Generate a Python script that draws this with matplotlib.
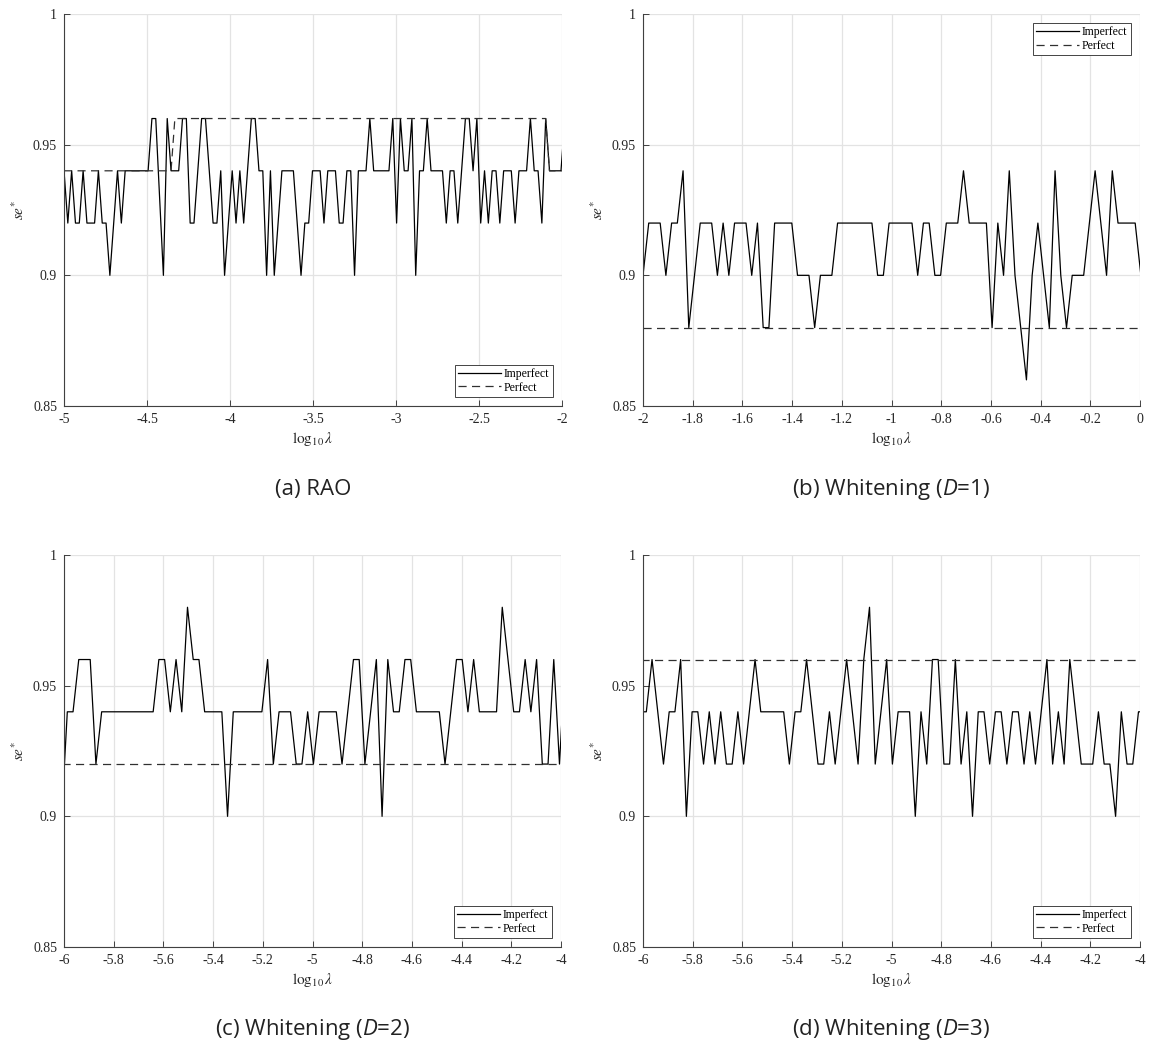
import numpy as np
import matplotlib
matplotlib.use("Agg")
import matplotlib.pyplot as plt

plt.rcParams['font.family'] = ['Liberation Serif', 'DejaVu Serif']
plt.rcParams['axes.unicode_minus'] = False
plt.rcParams['mathtext.fontset'] = 'custom'
plt.rcParams['mathtext.rm'] = 'Open Sans'
plt.rcParams['mathtext.it'] = 'Open Sans:italic'

# spacing of the log10(lambda) grid
STEP = 0.02303

# ---- (a) RAO ----
a_x0 = -5.0
a_imperfect = [0.94, 0.92, 0.94, 0.92, 0.92, 0.94, 0.92, 0.92, 0.92, 0.94,
               0.92, 0.92, 0.90, 0.92, 0.94, 0.92, 0.94, 0.94, 0.94, 0.94,
               0.94, 0.94, 0.94, 0.96, 0.96, 0.93, 0.90, 0.96, 0.94, 0.94,
               0.94, 0.96, 0.96, 0.92, 0.92, 0.94, 0.96, 0.96, 0.94, 0.92,
               0.92, 0.94, 0.90, 0.92, 0.94, 0.92, 0.94, 0.92, 0.94, 0.96,
               0.96, 0.94, 0.94, 0.90, 0.94, 0.90, 0.92, 0.94, 0.94, 0.94,
               0.94, 0.92, 0.90, 0.92, 0.92, 0.94, 0.94, 0.94, 0.92, 0.94,
               0.94, 0.94, 0.92, 0.92, 0.94, 0.94, 0.90, 0.94, 0.94, 0.94,
               0.96, 0.94, 0.94, 0.94, 0.94, 0.94, 0.96, 0.92, 0.96, 0.94,
               0.94, 0.96, 0.90, 0.94, 0.94, 0.96, 0.94, 0.94, 0.94, 0.94,
               0.92, 0.94, 0.94, 0.92, 0.94, 0.96, 0.96, 0.94, 0.96, 0.92,
               0.94, 0.92, 0.94, 0.94, 0.92, 0.94, 0.94, 0.94, 0.92, 0.94,
               0.94, 0.94, 0.96, 0.94, 0.94, 0.92, 0.96, 0.94, 0.94, 0.94,
               0.94, 0.96]
a_perfect_levels = [0.94, 0.96, 0.94]
a_perfect_counts = [29, 98, 5]
a_xticks = [-5, -4.5, -4, -3.5, -3, -2.5, -2]
a_xlim = (-5, -2)

# ---- (b) Whitening D=1 ----
b_x0 = -2.0
b_imperfect = [0.90, 0.92, 0.92, 0.92, 0.90, 0.92, 0.92, 0.94, 0.88, 0.90,
               0.92, 0.92, 0.92, 0.90, 0.92, 0.90, 0.92, 0.92, 0.92, 0.90,
               0.92, 0.88, 0.88, 0.92, 0.92, 0.92, 0.92, 0.90, 0.90, 0.90,
               0.88, 0.90, 0.90, 0.90, 0.92, 0.92, 0.92, 0.92, 0.92, 0.92,
               0.92, 0.90, 0.90, 0.92, 0.92, 0.92, 0.92, 0.92, 0.90, 0.92,
               0.92, 0.90, 0.90, 0.92, 0.92, 0.92, 0.94, 0.92, 0.92, 0.92,
               0.92, 0.88, 0.92, 0.90, 0.94, 0.90, 0.88, 0.86, 0.90, 0.92,
               0.90, 0.88, 0.94, 0.90, 0.88, 0.90, 0.90, 0.90, 0.92, 0.94,
               0.92, 0.90, 0.94, 0.92, 0.92, 0.92, 0.92, 0.90]
b_perfect_levels = [0.88]
b_perfect_counts = [88]
b_xticks = [-2, -1.8, -1.6, -1.4, -1.2, -1, -0.8, -0.6, -0.4, -0.2, 0]
b_xlim = (-2, 0)

# ---- (c) Whitening D=2 ----
c_x0 = -6.0097
c_imperfect = [0.90, 0.94, 0.94, 0.96, 0.96, 0.96, 0.92, 0.94, 0.94, 0.94,
               0.94, 0.94, 0.94, 0.94, 0.94, 0.94, 0.94, 0.96, 0.96, 0.94,
               0.96, 0.94, 0.98, 0.96, 0.96, 0.94, 0.94, 0.94, 0.94, 0.90,
               0.94, 0.94, 0.94, 0.94, 0.94, 0.94, 0.96, 0.92, 0.94, 0.94,
               0.94, 0.92, 0.92, 0.94, 0.92, 0.94, 0.94, 0.94, 0.94, 0.92,
               0.94, 0.96, 0.96, 0.92, 0.94, 0.96, 0.90, 0.96, 0.94, 0.94,
               0.96, 0.96, 0.94, 0.94, 0.94, 0.94, 0.94, 0.92, 0.94, 0.96,
               0.96, 0.94, 0.96, 0.94, 0.94, 0.94, 0.94, 0.98, 0.96, 0.94,
               0.94, 0.96, 0.94, 0.96, 0.92, 0.92, 0.96, 0.92, 0.96]
c_perfect_levels = [0.92]
c_perfect_counts = [89]
c_xticks = [-6, -5.8, -5.6, -5.4, -5.2, -5, -4.8, -4.6, -4.4, -4.2, -4]
c_xlim = (-6, -4)

# ---- (d) Whitening D=3 ----
d_x0 = -6.0097
d_imperfect = [0.94, 0.94, 0.96, 0.94, 0.92, 0.94, 0.94, 0.96, 0.90, 0.94,
               0.94, 0.92, 0.94, 0.92, 0.94, 0.92, 0.92, 0.94, 0.92, 0.94,
               0.96, 0.94, 0.94, 0.94, 0.94, 0.94, 0.92, 0.94, 0.94, 0.96,
               0.94, 0.92, 0.92, 0.94, 0.92, 0.94, 0.96, 0.94, 0.92, 0.96,
               0.98, 0.92, 0.94, 0.96, 0.92, 0.94, 0.94, 0.94, 0.90, 0.94,
               0.92, 0.96, 0.96, 0.92, 0.92, 0.96, 0.92, 0.94, 0.90, 0.94,
               0.94, 0.92, 0.94, 0.94, 0.92, 0.94, 0.94, 0.92, 0.94, 0.92,
               0.94, 0.96, 0.92, 0.94, 0.92, 0.96, 0.94, 0.92, 0.92, 0.92,
               0.94, 0.92, 0.92, 0.90, 0.94, 0.92, 0.92, 0.94, 0.94]
d_perfect_levels = [0.96]
d_perfect_counts = [89]
d_xticks = c_xticks
d_xlim = (-6, -4)

yticks = [0.85, 0.9, 0.95, 1]
ytick_labels = ['0.85', '0.9', '0.95', '1']
legend_labels = ['Imperfect', 'Perfect']
captions = ['(a) RAO', '(b) Whitening ($D$=1)', '(c) Whitening ($D$=2)', '(d) Whitening ($D$=3)']

panels = [
    (a_x0, a_imperfect, a_perfect_levels, a_perfect_counts, a_xticks, a_xlim, 'lower right'),
    (b_x0, b_imperfect, b_perfect_levels, b_perfect_counts, b_xticks, b_xlim, 'upper right'),
    (c_x0, c_imperfect, c_perfect_levels, c_perfect_counts, c_xticks, c_xlim, 'lower right'),
    (d_x0, d_imperfect, d_perfect_levels, d_perfect_counts, d_xticks, d_xlim, 'lower right'),
]

W, H = 1149, 1050
fig = plt.figure(figsize=(W / 100, H / 100), dpi=100)

boxes = [(64, 14, 498, 392), (643, 14, 497, 392), (64, 555, 497, 392), (643, 555, 497, 392)]
caption_y = [489, 1030]

for k, (box, p) in enumerate(zip(boxes, panels)):
    x0, imp, plev, pcnt, xt, xl, loc = p
    l, t, w, h = box
    ax = fig.add_axes([l / W, 1 - (t + h) / H, w / W, h / H])
    x = x0 + STEP * np.arange(len(imp))
    perf = np.repeat(plev, pcnt)
    xp = x0 + STEP * np.arange(len(perf))
    ax.plot(x, imp, color='black', lw=0.9, label=legend_labels[0])
    ax.plot(xp, perf, color='#303030', lw=0.9, linestyle=(0, (6.5, 4.3)), label=legend_labels[1])
    ax.set_xlim(*xl)
    ax.set_ylim(0.85, 1.0)
    ax.set_xticks(xt)
    ax.set_xticklabels(['%g' % v for v in xt])
    ax.set_yticks(yticks)
    ax.set_yticklabels(ytick_labels)
    ax.grid(True, color='#e3e3e3', lw=0.9)
    ax.set_axisbelow(True)
    for s in ['top', 'right']:
        ax.spines[s].set_visible(False)
    for s in ['left', 'bottom']:
        ax.spines[s].set_color('#404040')
        ax.spines[s].set_linewidth(0.8)
    ax.tick_params(direction='in', length=4, width=0.6, colors='#262626',
                   labelsize=10, pad=5)
    ax.set_xlabel(r'$\log_{10}\lambda$', fontsize=11, color='#262626',
                  math_fontfamily='stix', labelpad=3)
    ax.set_ylabel(r'$se^{*}$', fontsize=11, color='#262626',
                  math_fontfamily='stix', labelpad=4)
    leg = ax.legend(loc=loc, fontsize=8.5, frameon=True, fancybox=False,
                    edgecolor='#262626', framealpha=1, handlelength=3.6,
                    borderaxespad=0.8, borderpad=0.25, labelspacing=0.15,
                    handletextpad=0.3)
    leg.get_frame().set_linewidth(0.6)
    cy = caption_y[k // 2]
    fig.text((l + w / 2) / W, 1 - cy / H, captions[k], ha='center', va='center',
             fontsize=16, family='Open Sans', color='#222222')

fig.savefig('out.png', dpi=100)
